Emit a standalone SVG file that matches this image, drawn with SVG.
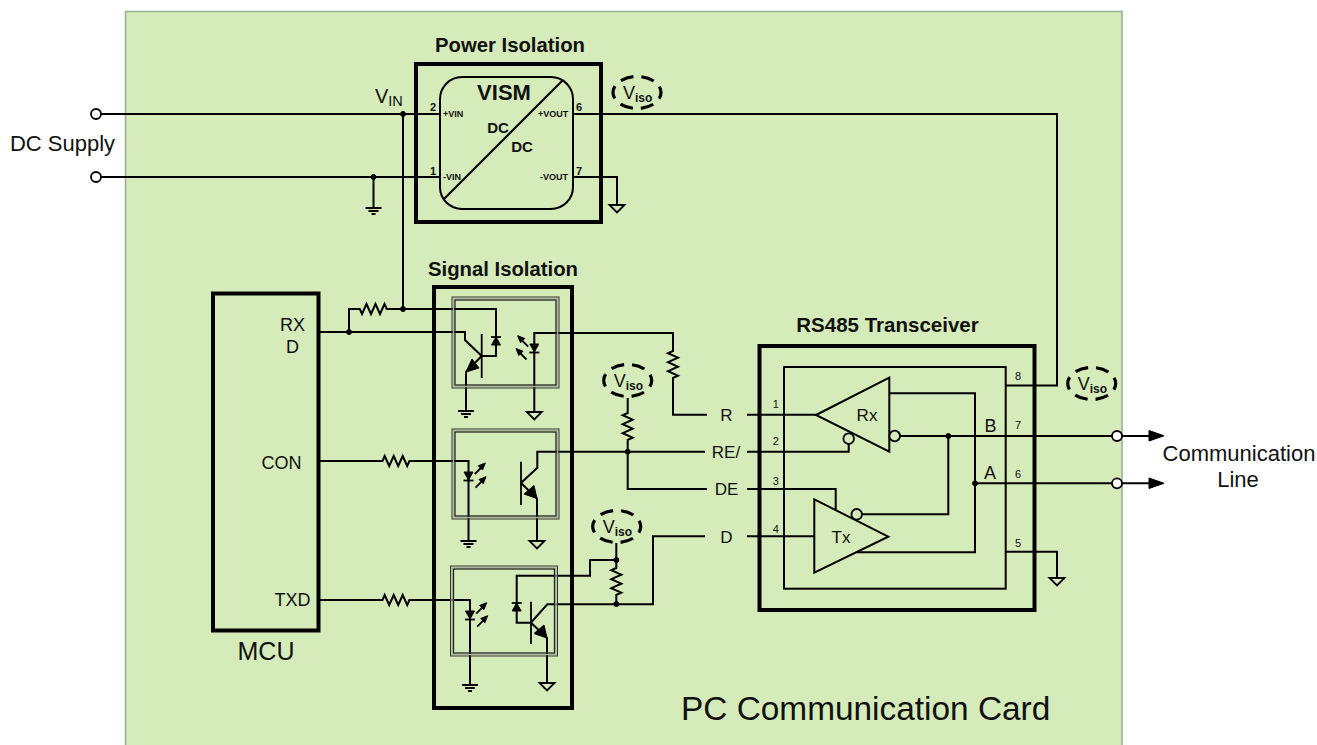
<svg xmlns="http://www.w3.org/2000/svg" xmlns:xlink="http://www.w3.org/1999/xlink" width="1317" height="745" viewBox="0 0 1317 745">
<style>
text{font-family:"Liberation Sans",Arial,sans-serif;fill:#111}
.w{fill:none;stroke:#000;stroke-width:2;stroke-linejoin:miter}
.t{fill:none;stroke:#000;stroke-width:1.8}
.box{fill:none;stroke:#000;stroke-width:4}
.f{fill:#000;stroke:#000;stroke-width:1}
.o{fill:none;stroke:#000;stroke-width:2}
.bub{fill:#d5ebb9;stroke:#000;stroke-width:1.8}
.term{fill:#fff;stroke:#000;stroke-width:1.8}
.fm{fill:none;stroke:#a9b89a;stroke-width:1.400}
.fo{fill:none;stroke:#333;stroke-width:1}
.fi{fill:none;stroke:#222;stroke-width:1.300}
.ring{fill:none;stroke:#000;stroke-width:3.2;stroke-dasharray:13 8.100;stroke-dashoffset:6.500}
.b{font-weight:bold}
.m{text-anchor:middle}
.vv{font-size:18px}
.vs{font-size:12px;font-weight:bold}
</style>
<defs>
<g id="gnd-e"><path class="t" d="M-8,0H8M-5,3H5M-2,6H2"/></g>
<path id="gnd-t" class="t" d="M-7.500,0H7.500L0,7.500Z"/>
<g id="ray"><path class="t" d="M10.500,11L2,2.500"/><path class="f" d="M0,0L7,2.800L2.800,7Z"/></g>
<g id="led"><path class="f" d="M-4.500,0H4.500L0,8Z"/><path class="t" d="M-5,8.500H5"/></g>
<g id="pd"><path class="f" d="M-4.500,8H4.500L0,0Z"/><path class="t" d="M-5,0H5"/></g>
<g id="viso">
<ellipse class="ring" rx="24" ry="16"/>
<text class="vv" x="-14" y="6">V</text><text class="vs" x="-2" y="9">iso</text>
</g>
</defs>

<g id="card">
<rect x="125.500" y="11.500" width="996.500" height="745" fill="#d5ebb9" stroke="#9fae98" stroke-width="1.600"/>
<text x="681" y="720" font-size="33.400">PC Communication Card</text>
</g>

<g id="connectors">
<path class="w" d="M101,114H440M101,177H440M403,114V309M373.500,177V207"/>
<path class="w" d="M573,114H1057V385.500H1005.700"/>
<path class="w" d="M573,177H617V205"/>
<path class="w" d="M319,332H465V340L481.700,356M481.700,356H496V309H403M403,309H386.700l-2.200,-5 -4.500,10 -4.500,-10 -4.500,10 -4.500,-10 -4.500,10 -2.200,-5H349V332"/>
<path class="w" d="M481.700,356L466,372V411"/>
<path class="w" d="M534.300,412V333H673V351l-5,2.200 10,4.500 -10,4.500 10,4.500 -10,4.500 10,4.500 -5,2.200V414.700H707"/>
<path class="w" d="M747,414.700H816"/>
<path class="w" d="M319,461H382.500l2.200,-5 4.500,10 4.500,-10 4.500,10 4.500,-10 4.500,10 2.200,-5H468.500V541"/>
<path class="w" d="M521,483L537.300,467.700V451.700H705M747,451.700H848.700V444"/>
<path class="w" d="M521,483L537,498.500V541"/>
<path class="w" d="M627.700,398V413l-5,2.200 10,4.500 -10,4.500 10,4.500 -10,4.500 10,4.500 -5,2.200V489H707M747,489H835.700V510"/>
<path class="w" d="M319,600H382.500l2.200,-5 4.500,10 4.500,-10 4.500,10 4.500,-10 4.500,10 2.200,-5H470V685"/>
<path class="w" d="M531,622.700L547.300,604.300H653V536.300H705M747,536.300H814.300"/>
<path class="w" d="M531,622.700L547,638V683"/>
<path class="w" d="M531,622.700H516.700V575.700H590V560H616.300"/>
<path class="w" d="M616.300,543V568l-5,2.200 10,4.500 -10,4.500 10,4.500 -10,4.500 10,4.500 -5,2.200V604"/>
<path class="w" d="M900,436H1112M1122,436H1150M948.300,436V514.300H862.300"/>
<path class="w" d="M889.300,393.300H975V552.300H856.700M975,483.300H1112M1122,483.300H1150"/>
<path class="w" d="M1005.700,551.700H1057V578"/>
<path class="f" d="M1149,430.500L1164,435.800L1149,441Z"/>
<path class="f" d="M1149,478L1164,483.300L1149,488.500Z"/>
<circle class="f" cx="403" cy="114" r="2.500"/><circle class="f" cx="373.500" cy="177" r="2.500"/>
<circle class="f" cx="403" cy="309" r="2.500"/><circle class="f" cx="349" cy="332" r="2.500"/>
<circle class="f" cx="627.700" cy="451.700" r="2.500"/><circle class="f" cx="616.300" cy="560" r="2.500"/><circle class="f" cx="616.300" cy="604" r="2.500"/>
<circle class="f" cx="948.300" cy="436" r="2.500"/><circle class="f" cx="975" cy="483.300" r="2.500"/>
</g>

<g id="dc-supply">
<circle class="term" cx="96" cy="114" r="5"/><circle class="term" cx="96" cy="177" r="5"/>
<text class="m" x="62.500" y="151" font-size="22">DC Supply</text>
<use xlink:href="#gnd-e" href="#gnd-e" x="373.500" y="208"/>
<text x="375" y="103" font-size="20">V<tspan font-size="14.500" dy="3">IN</tspan></text>
</g>

<g id="power-isolation">
<rect class="box" x="416" y="64" width="185" height="158"/>
<rect class="o" x="440" y="77" width="133" height="132" rx="22"/>
<path class="o" d="M444,199L563,80"/>
<text class="m b" x="510" y="52" font-size="20.300">Power Isolation</text>
<text class="m b" x="504" y="100" font-size="22">VISM</text>
<text class="m b" x="498" y="133" font-size="15">DC</text>
<text class="m b" x="522" y="152" font-size="15">DC</text>
<g class="b" font-size="9">
<text x="443" y="117">+VIN</text><text x="443" y="180">-VIN</text>
<text x="538" y="117">+VOUT</text><text x="540" y="180">-VOUT</text>
</g>
<g class="b" font-size="11">
<text class="m" x="433" y="111">2</text><text class="m" x="433" y="175">1</text>
<text class="m" x="579" y="111">6</text><text class="m" x="579" y="175">7</text>
</g>
<use xlink:href="#gnd-t" href="#gnd-t" x="617" y="205"/>
</g>
<use id="viso-power" xlink:href="#viso" href="#viso" x="637" y="92.500"/>

<g id="signal-isolation">
<rect class="box" x="434" y="287" width="138" height="421"/>
<text class="m b" x="503" y="276" font-size="20.300">Signal Isolation</text>
</g>

<g id="opto-1">
<rect class="fm" x="453.500" y="298.500" width="104" height="88"/><rect class="fo" x="452" y="297" width="107" height="91"/><rect class="fi" x="455" y="300" width="101" height="85"/>
<path class="t" d="M481.700,334V378"/>
<path class="f" d="M466,372L472,359L479,368Z"/>
<use xlink:href="#pd" href="#pd" x="496" y="337"/>
<use xlink:href="#led" href="#led" x="534.300" y="344"/>
<use xlink:href="#ray" href="#ray" x="517.700" y="335.700"/>
<use xlink:href="#ray" href="#ray" x="516" y="348.500"/>
<use xlink:href="#gnd-e" href="#gnd-e" x="466" y="411"/>
<use xlink:href="#gnd-t" href="#gnd-t" x="534.300" y="412"/>
</g>

<g id="opto-2">
<rect class="fm" x="453.500" y="430.500" width="104" height="87"/><rect class="fo" x="452" y="429" width="107" height="90"/><rect class="fi" x="455" y="432" width="101" height="84"/>
<path class="t" d="M521,461.700V505"/>
<path class="f" d="M537,498.500L524,494L534,485.500Z"/>
<use xlink:href="#led" href="#led" x="468.500" y="472"/>
<use xlink:href="#ray" href="#ray" transform="translate(485.300,463) scale(-1,1)"/>
<use xlink:href="#ray" href="#ray" transform="translate(486,476.700) scale(-1,1)"/>
<use xlink:href="#gnd-e" href="#gnd-e" x="468.500" y="541"/>
<use xlink:href="#gnd-t" href="#gnd-t" x="537" y="541"/>
</g>

<g id="opto-3">
<rect class="fm" x="452" y="567.500" width="104" height="87"/><rect class="fo" x="450.500" y="566" width="107" height="90"/><rect class="fi" x="453.500" y="569" width="101" height="84"/>
<path class="t" d="M531,601.700V644"/>
<path class="f" d="M547,638L534,633.500L544,625Z"/>
<use xlink:href="#pd" href="#pd" x="516.700" y="603"/>
<use xlink:href="#led" href="#led" x="470" y="611"/>
<use xlink:href="#ray" href="#ray" transform="translate(486.700,602.700) scale(-1,1)"/>
<use xlink:href="#ray" href="#ray" transform="translate(487.700,615.700) scale(-1,1)"/>
<use xlink:href="#gnd-e" href="#gnd-e" x="470" y="685"/>
<use xlink:href="#gnd-t" href="#gnd-t" x="547" y="683"/>
</g>

<use id="viso-re" xlink:href="#viso" href="#viso" x="627.700" y="380.500"/>
<use id="viso-d" xlink:href="#viso" href="#viso" x="616.700" y="526.500"/>

<g id="mcu">
<rect class="box" x="213" y="293.500" width="105.500" height="337"/>
<g font-size="18">
<text class="m" x="292.500" y="331">RX</text><text class="m" x="292.500" y="353">D</text>
<text class="m" x="281.500" y="469">CON</text><text class="m" x="292.500" y="606">TXD</text>
</g>
<text class="m" x="266" y="660" font-size="25">MCU</text>
</g>

<g id="signal-labels" font-size="17">
<text class="m" x="726.500" y="420.500">R</text>
<text class="m" x="726" y="458">RE/</text>
<text class="m" x="726.500" y="495">DE</text>
<text class="m" x="726.500" y="542.500">D</text>
</g>

<g id="rs485-transceiver">
<rect class="box" x="759.500" y="346" width="275" height="264"/>
<rect class="o" x="784" y="367" width="221.700" height="221.700"/>
<text class="m b" x="887.500" y="332" font-size="20.500">RS485 Transceiver</text>
<path class="o" d="M816,415L889.300,377.700V451.700Z"/>
<path class="o" d="M814.300,499.300V572.700L888.300,536.700Z"/>
<circle class="bub" cx="894.700" cy="436" r="5.300"/>
<circle class="bub" cx="848.700" cy="438.700" r="5.300"/>
<circle class="bub" cx="856.700" cy="514.300" r="5.300"/>
<text class="m" x="867" y="421" font-size="17">Rx</text>
<text class="m" x="841" y="543" font-size="17">Tx</text>
<text class="m" x="990.500" y="432" font-size="18">B</text>
<text class="m" x="990" y="479" font-size="18">A</text>
<g font-size="11">
<text class="m" x="775.700" y="408">1</text><text class="m" x="775.700" y="445">2</text>
<text class="m" x="775.700" y="485">3</text><text class="m" x="775.700" y="533">4</text>
<text class="m" x="1018" y="380">8</text><text class="m" x="1018" y="429">7</text>
<text class="m" x="1018" y="478">6</text><text class="m" x="1018" y="547">5</text>
</g>
<use xlink:href="#gnd-t" href="#gnd-t" x="1057" y="578"/>
</g>
<use id="viso-vcc" xlink:href="#viso" href="#viso" x="1091.700" y="383.500"/>

<g id="communication-line">
<circle class="term" cx="1117" cy="436" r="5"/><circle class="term" cx="1117" cy="483.300" r="5"/>
<text class="m" x="1239" y="461" font-size="22">Communication</text>
<text class="m" x="1238" y="487" font-size="22">Line</text>
</g>
</svg>
